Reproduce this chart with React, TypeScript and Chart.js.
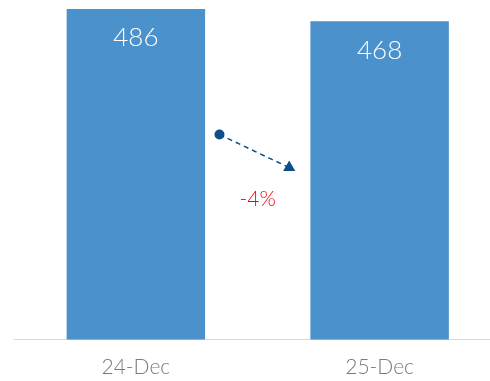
import React, { useEffect, useRef } from "react";
import { Chart, registerables } from "chart.js";
Chart.register(...registerables);

const categories = ["24-Dec", "25-Dec"];
const values = [486, 468];
const arrowX = [0.343, 0.629];
const arrowY = [301.5, 253];
const changeText = "-4%";
const changeX = 0.5;
const changeY = 206;

const FONT = "Lato, 'Noto Sans', sans-serif";

const labelPlugin = {
  id: "labels",
  afterDatasetsDraw(chart: any) {
    const ctx = chart.ctx;
    const meta = chart.getDatasetMeta(0);
    ctx.save();
    ctx.fillStyle = "#ffffff";
    ctx.font = `300 26px ${FONT}`;
    ctx.textAlign = "center";
    ctx.textBaseline = "middle";
    meta.data.forEach((bar: any, i: number) => {
      ctx.fillText(String(values[i]), bar.x, bar.y + 29);
    });
    const sx = chart.scales.x;
    const sy = chart.scales.y;
    ctx.fillStyle = "#ff0000";
    ctx.font = `300 21px ${FONT}`;
    ctx.fillText(changeText, sx.getPixelForValue(changeX), sy.getPixelForValue(changeY));
    ctx.restore();
  },
};

export default function App() {
  const ref = useRef<HTMLCanvasElement>(null);
  useEffect(() => {
    if (!ref.current) return;
    const chart = new Chart(ref.current, {
      type: "bar",
      data: {
        datasets: [
          {
            type: "bar",
            data: values.map((v, i) => ({ x: i, y: v })),
            backgroundColor: "#4b92cd",
            barPercentage: 0.568,
            categoryPercentage: 1,
            order: 2,
          } as any,
          {
            type: "line",
            data: arrowX.map((x, i) => ({ x, y: arrowY[i] })),
            borderColor: "#0d4d8c",
            borderWidth: 1.5,
            borderDash: [5, 4],
            pointStyle: ["circle", "triangle"],
            pointRadius: [5, 7],
            pointBackgroundColor: "#0d4d8c",
            pointBorderColor: "#0d4d8c",
            pointBorderWidth: 0,
            order: 1,
          } as any,
        ],
      },
      options: {
        animation: false,
        responsive: false,
        layout: { padding: { left: 14, right: 8.5, top: 9, bottom: 2 } },
        plugins: { legend: { display: false }, tooltip: { enabled: false } },
        scales: {
          x: {
            type: "linear",
            min: -0.5,
            max: 1.5,
            offset: false,
            afterBuildTicks: (s: any) => {
              s.ticks = categories.map((_, i) => ({ value: i }));
            },
            grid: { display: false, drawTicks: false },
            border: { display: true, color: "#d9d9d9", width: 1 },
            ticks: {
              color: "#7a7a7a",
              font: { family: FONT, size: 21, weight: "300" },
              padding: 15,
              autoSkip: false,
              maxRotation: 0,
              callback: (v: any) => categories[v] ?? "",
            },
          },
          y: { display: false, min: 0, max: 486 },
        },
      },
      plugins: [labelPlugin],
    } as any);
    return () => chart.destroy();
  }, []);
  return (
    <div style={{ position: "fixed", left: 0, top: 0, width: 490, height: 381, overflow: "hidden" }}>
      <canvas ref={ref} width={510} height={397} style={{ display: "block" }} />
    </div>
  );
}
